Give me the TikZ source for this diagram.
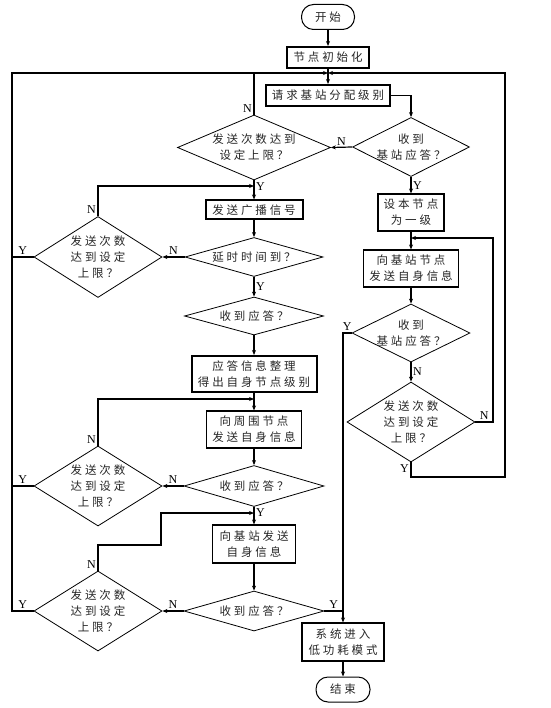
\documentclass[tikz,border=0pt]{standalone}
\usepackage{fontspec}
\setmainfont{Liberation Serif}
\newfontfamily\cjk[LetterSpace=25]{Noto Sans CJK SC}
\usetikzlibrary{arrows.meta, positioning, shapes.geometric}

\begin{document}
\begin{tikzpicture}[x=1pt, y=-1pt,
    every node/.style={font=\cjk\fontsize{11.5}{16}\selectfont, text=black!85},
    stepbox/.style={draw, line width=1.1pt, align=center, inner sep=1pt},
    boldbox/.style={stepbox, line width=2pt},
    term/.style={draw, line width=1pt, rounded corners=12pt},
    decide/.style={diamond, draw, line width=0.8pt, inner sep=0pt},
    yn/.style={font=\fontsize{12}{13}\selectfont, text=black, inner sep=1.5pt},
    flow/.style={line width=1.2pt, -{Stealth[length=5pt, width=4pt]}},
    wire/.style={line width=1.2pt}]
\useasboundingbox (0,0) rectangle (550,708);

% start and request
\node[term, minimum width=53pt, minimum height=25pt] (start) at (328,17) {开始};
\node[boldbox, minimum width=82pt, minimum height=21pt] (init) at (328,57.5) {节点初始化};
\node[boldbox, minimum width=124pt, minimum height=21pt] (req) at (328,95.5) {请求基站分配级别};
\coordinate (top) at (328,73);
\coordinate (railL) at (12,73);
\coordinate (railR) at (505,73);
\coordinate (railRb) at (505,477);

% right column
\node[decide, minimum width=117pt, minimum height=59pt,
      label={[align=center]center:收到\\基站应答？}] (ansA) at (411,147) {};
\node[stepbox, minimum width=66pt, minimum height=37pt] (setlv) at (411,212.5) {设本节点\\为一级};
\coordinate (loopR) at (411,238);
\coordinate (rloop) at (493,238);
\node[stepbox, minimum width=95pt, minimum height=37pt] (sendBS) at (411,268.5) {向基站节点\\发送自身信息};
\node[decide, minimum width=118pt, minimum height=58pt,
      label={[align=center]center:收到\\基站应答？}] (ansB) at (411,333) {};
\node[decide, minimum width=128pt, minimum height=80pt,
      label={[align=center]center:发送次数\\达到设定\\上限？}] (cntB) at (411,422) {};

% centre column
\node[decide, minimum width=153pt, minimum height=65pt,
      label={[align=center]center:发送次数达到\\设定上限？}] (cntA) at (254,147.5) {};
\coordinate (j1) at (254,186);
\node[boldbox, minimum width=97pt, minimum height=19pt] (bcast) at (254,210) {发送广播信号};
\node[decide, minimum width=138pt, minimum height=39pt,
      label={center:延时时间到？}] (delay) at (254,257) {};
\node[decide, minimum width=139pt, minimum height=38pt,
      label={center:收到应答？}] (ansC) at (254,316) {};
\node[boldbox, minimum width=125pt, minimum height=36pt] (proc) at (254,374) {应答信息整理\\得出自身节点级别};
\coordinate (j2) at (254,399);
\node[stepbox, minimum width=95pt, minimum height=37pt] (sendNb) at (254,429.5) {向周围节点\\发送自身信息};
\node[decide, minimum width=140pt, minimum height=41pt,
      label={center:收到应答？}] (ansD) at (254,486) {};
\coordinate (j3) at (254,513);
\coordinate (bend) at (161,545);
\node[stepbox, minimum width=83pt, minimum height=38pt] (sendBS2) at (254,544) {向基站发送\\自身信息};
\node[decide, minimum width=140pt, minimum height=40pt,
      label={center:收到应答？}] (ansE) at (254,611) {};

% left column
\node[decide, minimum width=128pt, minimum height=81pt,
      label={[align=center]center:发送次数\\达到设定\\上限？}] (cntC) at (98,257) {};
\node[decide, minimum width=128pt, minimum height=80pt,
      label={[align=center]center:发送次数\\达到设定\\上限？}] (cntD) at (98,486) {};
\node[decide, minimum width=128pt, minimum height=80pt,
      label={[align=center]center:发送次数\\达到设定\\上限？}] (cntE) at (98,611) {};

% end
\node[stepbox, minimum width=82pt, minimum height=38pt] (lowp) at (343,642) {系统进入\\低功耗模式};
\node[term, minimum width=54pt, minimum height=25pt] (stop) at (343,689.5) {结束};

% connectors
\draw[flow] (start) -- (init);
\draw[flow] (init) -- (req);
\draw[flow] (req.east) -| (ansA.north);
\draw[flow] (ansA.west) -- node[yn, above]{N} (cntA.east);
\draw[flow] (ansA.south) -- node[yn, right]{Y} (setlv.north);
\draw[flow] (setlv) -- (sendBS);
\draw[flow] (sendBS) -- (ansB);
\draw[flow] (ansB.south) -- node[yn, right]{N} (cntB.north);
\draw[flow] (cntB.east) -| node[yn, pos=0.25, above]{N} (rloop) -- (loopR);
\draw[flow] (cntB.south) |- node[yn, pos=0, below left=0pt]{Y} (railRb) -- (railR) -- (top);
\draw[flow] (ansB.west) -| node[yn, pos=0.25, above]{Y} (lowp.north);

\draw[wire] (cntA.north) -- node[yn, pos=0, above left=0pt]{N} (cntA.north |- top);
\draw[flow] (cntA.south) -- node[yn, pos=0.3, right]{Y} (bcast.north);
\draw[flow] (bcast) -- (delay);
\draw[flow] (delay.west) -- node[yn, above]{N} (cntC.east);
\draw[flow] (delay.south) -- node[yn, right]{Y} (ansC.north);
\draw[flow] (ansC) -- (proc);
\draw[flow] (proc) -- (sendNb);
\draw[flow] (sendNb) -- (ansD);
\draw[flow] (ansD.west) -- node[yn, above]{N} (cntD.east);
\draw[flow] (ansD.south) -- node[yn, pos=0.3, right]{Y} (sendBS2.north);
\draw[flow] (sendBS2) -- (ansE);
\draw[flow] (ansE.west) -- node[yn, above]{N} (cntE.east);
\draw[wire] (ansE.east) -- node[yn, above]{Y} (ansE.east -| lowp);
\draw[flow] (lowp) -- (stop);

\draw[flow] (cntC.north) |- node[yn, pos=0, above left=0pt]{N} (j1);
\draw[flow] (cntD.north) |- node[yn, pos=0, above left=0pt]{N} (j2);
\draw[flow] (cntE.north) |- node[yn, pos=0, above left=0pt]{N} (bend) |- (j3);
\draw[wire] (cntC.west) -- node[yn, above]{Y} (cntC.west -| railL);
\draw[wire] (cntD.west) -- node[yn, above]{Y} (cntD.west -| railL);
\draw[flow] (cntE.west) -- node[yn, above]{Y} (cntE.west -| railL) -- (railL) -- (top);
\end{tikzpicture}
\end{document}
